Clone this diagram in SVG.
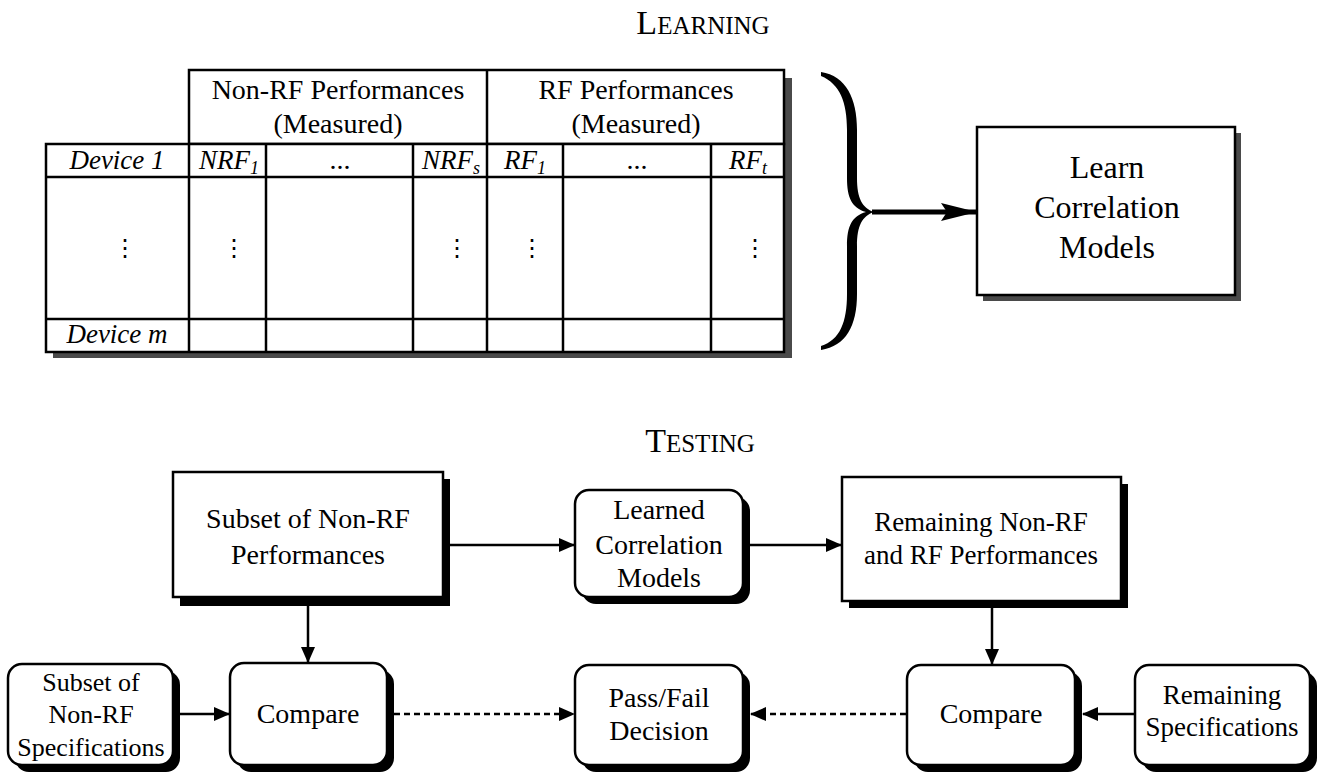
<svg xmlns="http://www.w3.org/2000/svg" width="1321" height="773" viewBox="0 0 1321 773" font-family="Liberation Serif, serif">
<defs>
<marker id="ah" markerWidth="16" markerHeight="14" refX="15" refY="7" orient="auto" markerUnits="userSpaceOnUse">
<path d="M0,0 L16,7 L0,14 Z" fill="#000"/>
</marker>
<marker id="ahb" markerWidth="36" markerHeight="18" refX="35" refY="9" orient="auto" markerUnits="userSpaceOnUse">
<path d="M0,0 L36,9 L0,18 L6,9 Z" fill="#000"/>
</marker>
</defs>
<style>
text{fill:#000;text-anchor:middle}
.t{font-size:28px}
.it{font-size:27px;font-style:italic}
.sub{font-size:18px}
.b{font-size:32px}
.m{font-size:28px}
.s{font-size:27px}
.s2{font-size:26px}
.box{fill:#fff;stroke:#000;stroke-width:2.5}
.sh{fill:#000}
.tsh{fill:#4a4a4a}
.ln{stroke:#000;stroke-width:2.5;fill:none}
.c{stroke:#000;stroke-width:2.5;fill:none}
.d{stroke:#000;stroke-width:2.5;fill:none;stroke-dasharray:6,4}
.dots{font-size:24px}
</style>
<rect width="1321" height="773" fill="#fff"/>

<g id="title-learning"><text x="703" y="34" font-family="Liberation Serif, serif"><tspan font-size="34">L</tspan><tspan font-size="25">EARNING</tspan></text></g>
<g id="title-testing"><text x="700" y="452" font-family="Liberation Serif, serif"><tspan font-size="34">T</tspan><tspan font-size="25">ESTING</tspan></text></g>

<g id="table" font-family="Liberation Serif, serif">
<path class="tsh" d="M196,78 H792 V358 H53 V352 H784 V78 Z"/>
<rect class="box" x="189" y="70" width="595" height="74"/>
<rect class="box" x="46" y="144" width="738" height="208"/>
<line class="ln" x1="487" y1="70" x2="487" y2="352"/>
<line class="ln" x1="189" y1="144" x2="189" y2="352"/>
<line class="ln" x1="46" y1="177" x2="784" y2="177"/>
<line class="ln" x1="46" y1="319" x2="784" y2="319"/>
<line class="ln" x1="266" y1="144" x2="266" y2="352"/>
<line class="ln" x1="413" y1="144" x2="413" y2="352"/>
<line class="ln" x1="563" y1="144" x2="563" y2="352"/>
<line class="ln" x1="711" y1="144" x2="711" y2="352"/>
<text class="t" x="338" y="99">Non-RF Performances</text>
<text class="t" x="338" y="133">(Measured)</text>
<text class="t" x="636" y="99">RF Performances</text>
<text class="t" x="636" y="133">(Measured)</text>
<text class="it" x="117" y="169">Device 1</text>
<text class="it" x="229" y="169">NRF<tspan class="sub" dy="5">1</tspan></text>
<text class="t" x="340" y="169">...</text>
<text class="it" x="451" y="169">NRF<tspan class="sub" dy="5">s</tspan></text>
<text class="it" x="525" y="169">RF<tspan class="sub" dy="5">1</tspan></text>
<text class="t" x="637" y="169">...</text>
<text class="it" x="748" y="169">RF<tspan class="sub" dy="5">t</tspan></text>
<text class="dots" x="125" y="256" font-family="DejaVu Serif, serif">⋮</text>
<text class="dots" x="234" y="256" font-family="DejaVu Serif, serif">⋮</text>
<text class="dots" x="457" y="256" font-family="DejaVu Serif, serif">⋮</text>
<text class="dots" x="532" y="256" font-family="DejaVu Serif, serif">⋮</text>
<text class="dots" x="755" y="256" font-family="DejaVu Serif, serif">⋮</text>
<text class="it" x="117" y="343">Device m</text>
</g>

<g id="brace">
<path fill="#000" d="M821,72 C846,76 857,98 857,130 L857,178 C857,198 862,208 874,212 C862,216 857,226 857,246 L857,294 C857,326 846,346 821,350 L821,346 C840,340 847,322 847,294 L847,246 C847,226 852,216 866,212 C852,208 847,198 847,178 L847,130 C847,102 840,84 821,76 Z"/>
</g>

<g id="learn" font-family="Liberation Serif, serif">
<rect class="tsh" x="983" y="133" width="258" height="168"/>
<rect class="box" x="977" y="127" width="258" height="168"/>
<text class="b" x="1107" y="178">Learn</text>
<text class="b" x="1107" y="218">Correlation</text>
<text class="b" x="1107" y="258">Models</text>
</g>

<g id="subset-perf" font-family="Liberation Serif, serif">
<rect class="sh" x="180" y="479" width="270" height="127"/>
<rect class="box" x="173" y="472" width="270" height="125"/>
<text class="m" x="308" y="528">Subset of Non-RF</text>
<text class="m" x="308" y="564">Performances</text>
</g>

<g id="learned" font-family="Liberation Serif, serif">
<rect class="sh" x="582" y="497" width="168" height="107" rx="14"/>
<rect class="box" x="575" y="490" width="168" height="107" rx="14"/>
<text class="m" x="659" y="519">Learned</text>
<text class="m" x="659" y="554">Correlation</text>
<text class="m" x="659" y="587">Models</text>
</g>

<g id="remaining-perf" font-family="Liberation Serif, serif">
<rect class="sh" x="849" y="484" width="279" height="124"/>
<rect class="box" x="842" y="477" width="279" height="124"/>
<text class="s" x="981" y="531">Remaining Non-RF</text>
<text class="s" x="981" y="564">and RF Performances</text>
</g>

<g id="subset-spec" font-family="Liberation Serif, serif">
<rect class="sh" x="15" y="671" width="165" height="101" rx="14"/>
<rect class="box" x="8" y="664" width="165" height="101" rx="14"/>
<text class="s2" x="91" y="691">Subset of</text>
<text class="s2" x="91" y="723">Non-RF</text>
<text class="s2" x="91" y="756">Specifications</text>
</g>

<g id="compare1" font-family="Liberation Serif, serif">
<rect class="sh" x="237" y="670" width="157" height="102" rx="14"/>
<rect class="box" x="230" y="663" width="157" height="102" rx="14"/>
<text class="m" x="308" y="723">Compare</text>
</g>

<g id="passfail" font-family="Liberation Serif, serif">
<rect class="sh" x="582" y="672" width="168" height="100" rx="14"/>
<rect class="box" x="575" y="665" width="168" height="100" rx="14"/>
<text class="m" x="659" y="707">Pass/Fail</text>
<text class="m" x="659" y="740">Decision</text>
</g>

<g id="compare2" font-family="Liberation Serif, serif">
<rect class="sh" x="914" y="672" width="168" height="100" rx="14"/>
<rect class="box" x="907" y="665" width="168" height="100" rx="14"/>
<text class="m" x="991" y="723">Compare</text>
</g>

<g id="remaining-spec" font-family="Liberation Serif, serif">
<rect class="sh" x="1142" y="672" width="175" height="100" rx="14"/>
<rect class="box" x="1135" y="665" width="175" height="100" rx="14"/>
<text class="s" x="1222" y="704">Remaining</text>
<text class="s" x="1222" y="736">Specifications</text>
</g>

<g id="connectors">
<line x1="872" y1="212" x2="976" y2="212" stroke="#000" stroke-width="5" marker-end="url(#ahb)"/>
<line class="c" x1="450" y1="545" x2="574" y2="545" marker-end="url(#ah)"/>
<line class="c" x1="750" y1="545" x2="841" y2="545" marker-end="url(#ah)"/>
<line class="c" x1="308" y1="606" x2="308" y2="662" marker-end="url(#ah)"/>
<line class="c" x1="992" y1="608" x2="992" y2="664" marker-end="url(#ah)"/>
<line class="c" x1="180" y1="714" x2="229" y2="714" marker-end="url(#ah)"/>
<line class="d" x1="394" y1="714" x2="574" y2="714" marker-end="url(#ah)"/>
<line class="d" x1="906" y1="714" x2="751" y2="714" marker-end="url(#ah)"/>
<line class="c" x1="1135" y1="714" x2="1083" y2="714" marker-end="url(#ah)"/>
</g>
</svg>
